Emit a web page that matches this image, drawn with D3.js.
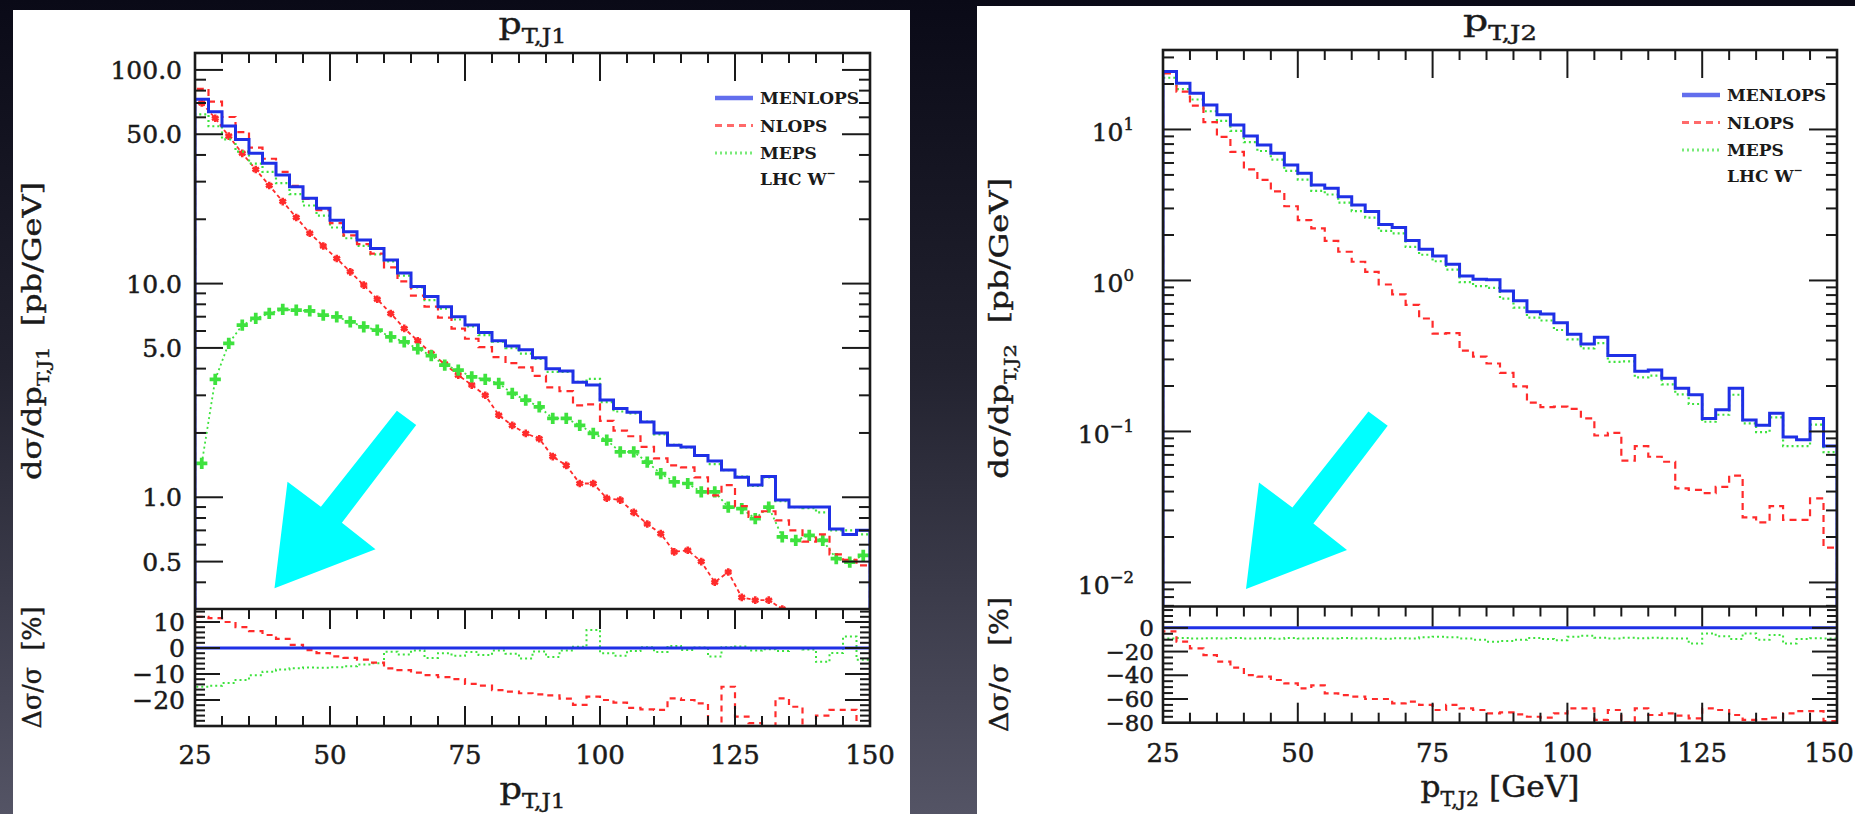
<!DOCTYPE html>
<html><head><meta charset="utf-8">
<script src="https://cdn.jsdelivr.net/npm/d3@7"></script>
<style>html,body{margin:0;padding:0;background:#111;overflow:hidden}</style>
</head><body><svg id="c" width="1855" height="814"></svg>
<script>
// ---------------- DATA ----------------
const binStarts = d3.range(25, 150, 2.5);   // 2.5 GeV bins, 25..150
const binWidth = 2.5;
const xTicks = [25, 50, 75, 100, 125, 150];
const xTickLabels = ["25", "50", "75", "100", "125", "150"];

// p_T,J1 panel
const j1Menlops = [72.9,63.8,54.7,47.3,40.7,36.6,32.2,28.4,25.1,22.5,19.8,17.5,16.0,14.6,12.9,11.2,9.7,8.7,7.8,7.0,6.4,5.9,5.4,5.1,4.9,4.5,4.0,3.9,3.45,3.35,2.85,2.6,2.5,2.25,2.0,1.75,1.72,1.57,1.48,1.34,1.24,1.14,1.25,0.97,0.90,0.90,0.90,0.71,0.67,0.70];
const j1Nlops = [81.6,71.1,60.2,51.1,43.3,38.4,33.3,28.7,24.9,22.05,19.2,16.8,15.3,13.8,11.9,10.25,8.78,7.8,6.93,6.16,5.52,5.04,4.53,4.24,4.05,3.70,3.27,3.14,2.69,2.72,2.28,2.05,1.93,1.72,1.52,1.41,1.38,1.24,1.02,1.14,0.91,0.81,0.86,0.78,0.70,0.62,0.67,0.54,0.51,0.48];
const j1Meps = [62.0,54.5,47.3,41.5,36.4,33.3,29.5,26.2,23.2,20.8,18.3,16.3,15.0,13.7,12.7,10.9,9.6,8.37,7.64,6.79,6.30,5.74,5.35,4.99,4.70,4.44,3.86,3.86,3.47,3.58,2.79,2.52,2.47,2.26,1.97,1.76,1.71,1.57,1.43,1.34,1.25,1.13,1.24,0.96,0.90,0.89,0.85,0.70,0.70,0.67];
const j1NlopsMarked = [70,59.4,49,40.7,34.2,28.8,24.2,20.4,17.2,15.0,13.1,11.35,9.84,8.45,7.25,6.17,5.4,4.71,4.2,3.73,3.35,3.0,2.42,2.17,1.99,1.88,1.55,1.41,1.16,1.16,0.99,0.97,0.85,0.75,0.676,0.555,0.565,0.50,0.40,0.447,0.34,0.33,0.33,0.30,0.27,0.25,0.23,0.21,0.19,0.17];
const j1MepsMarked = [1.44,3.56,5.25,6.39,6.87,7.25,7.57,7.51,7.45,7.12,6.99,6.62,6.28,6.05,5.63,5.34,4.95,4.6,4.15,3.94,3.66,3.56,3.41,3.06,2.85,2.65,2.34,2.34,2.17,1.99,1.85,1.63,1.63,1.46,1.29,1.18,1.16,1.06,1.06,0.90,0.885,0.795,0.90,0.652,0.629,0.664,0.629,0.516,0.497,0.535];
const j1RatioNlops = [12,11.5,10,8,6.5,5,3.5,1.2,-0.8,-2,-3.2,-3.8,-4.5,-5.6,-7.8,-8.5,-9.5,-10.4,-11.2,-12.0,-13.8,-14.5,-16.2,-16.8,-17.4,-17.8,-18.2,-19.5,-21.9,-18.7,-20.0,-21.0,-23.0,-23.6,-23.8,-19.4,-20.0,-21.3,-31,-14.9,-26.4,-28.9,-31,-19.4,-22.6,-31,-26,-23.8,-23.8,-31];
const j1RatioMeps = [-14.9,-14.5,-13.5,-12.3,-10.5,-9.1,-8.3,-7.8,-7.5,-7.6,-7.4,-7.0,-6.3,-5.9,-1.4,-2.5,-1.0,-3.8,-2.0,-3.0,-1.5,-2.7,-1.0,-2.2,-4.0,-1.3,-3.5,-1.0,0.5,6.9,-2.0,-3.0,-1.2,0.3,-1.5,0.8,-0.8,0.2,-3.3,0.3,0.6,-1.0,-0.5,-1.2,0.0,-0.6,-5.3,-1.9,4.4,-4.5];
const j1YTicks = [100, 50, 10, 5, 1, 0.5];
const j1YTickLabels = ["100.0", "50.0", "10.0", "5.0", "1.0", "0.5"];
const j1RatioTicks = [10, 0, -10, -20];
const j1RatioTickLabels = ["10", "0", "\u221210", "\u221220"];

// p_T,J2 panel
const j2Menlops = [24.2,20.2,17.4,14.5,12.5,10.7,9.06,7.89,6.95,5.82,5.12,4.29,4.08,3.59,3.16,2.86,2.35,2.24,1.84,1.61,1.45,1.28,1.07,1.02,1.01,0.85,0.733,0.62,0.60,0.525,0.44,0.38,0.42,0.318,0.318,0.25,0.255,0.225,0.193,0.175,0.122,0.139,0.193,0.119,0.110,0.132,0.092,0.088,0.122,0.080];
const j2Nlops = [23.5,17.8,14.4,11.2,8.94,7.10,5.45,4.64,3.89,3.10,2.51,2.21,1.83,1.55,1.33,1.14,0.94,0.81,0.69,0.56,0.445,0.448,0.343,0.313,0.282,0.244,0.199,0.155,0.145,0.146,0.141,0.122,0.094,0.098,0.064,0.080,0.068,0.063,0.042,0.041,0.039,0.043,0.051,0.027,0.025,0.032,0.026,0.026,0.036,0.017];
const j2Meps = [22.0,18.5,15.8,13.2,11.4,9.79,8.24,7.20,6.31,5.32,4.66,3.92,3.71,3.28,2.88,2.61,2.13,2.05,1.67,1.48,1.34,1.18,0.974,0.918,0.892,0.757,0.660,0.567,0.543,0.470,0.407,0.355,0.385,0.289,0.291,0.228,0.234,0.205,0.176,0.152,0.116,0.129,0.175,0.113,0.099,0.124,0.080,0.080,0.111,0.073];
const j2RatioNlops = [-3,-11.7,-17.3,-23,-28.5,-33.6,-39.8,-41.2,-44,-46.8,-51,-48.5,-55.2,-56.7,-58,-60,-60,-63.7,-62.3,-65,-69.3,-65,-67.9,-69.3,-72.1,-71.3,-72.9,-75,-75.8,-72.1,-67.9,-67.9,-77.7,-69.3,-80,-68,-73.5,-72.1,-74,-76.3,-67.9,-69.3,-73.5,-77.7,-77,-75.8,-72.1,-70.2,-70.2,-78.6];
const j2RatioMeps = [-9,-8.5,-9,-8.7,-9,-8.5,-9,-8.8,-9.2,-8.6,-9,-8.7,-9,-8.5,-9,-8.8,-9.2,-8.7,-9,-8,-7.5,-8,-9,-10,-11.7,-11,-10,-8.5,-9.5,-10.5,-7.5,-6.6,-8.4,-9,-8.4,-8.8,-8.4,-8.8,-9,-13.2,-4.7,-7,-9.5,-4.7,-10,-6,-13.2,-9.5,-8.8,-9];
const j2YTicks = [10, 1, 0.1, 0.01];
const j2YTickExponents = ["1", "0", "\u22121", "\u22122"];
const j2RatioTicks = [0, -20, -40, -60, -80];
const j2RatioTickLabels = ["0", "\u221220", "\u221240", "\u221260", "\u221280"];

const legendNames = ["MENLOPS", "NLOPS", "MEPS"];

// ---------------- STYLE / LAYOUT ----------------
const FONT = "'DejaVu Serif', 'Liberation Serif', serif";
const INK = "#1a1a1a";
const BLUE = "#1f30e6", RED = "#ff2b2b", GREEN = "#3ee23e";
const PAGE_W = 1855;

const svg = d3.select("#c");
const defs = svg.append("defs");
const grad = defs.append("linearGradient").attr("id", "bg").attr("x1", 0).attr("y1", 0).attr("x2", 0).attr("y2", 1);
grad.append("stop").attr("offset", 0).attr("stop-color", "#0a0a17");
grad.append("stop").attr("offset", 0.45).attr("stop-color", "#22222f");
grad.append("stop").attr("offset", 1).attr("stop-color", "#545465");
svg.append("rect").attr("width", 1855).attr("height", 814).attr("fill", "url(#bg)");

function richText(parent, x, y, parts, o) {
  const size = o.size;
  const g = parent.append("g").attr("transform", `translate(${x},${y})` + (o.rotate ? ` rotate(${o.rotate})` : ""));
  const t = g.append("text").attr("font-family", FONT).attr("font-size", size)
    .attr("font-weight", o.weight || "normal").attr("text-anchor", o.anchor || "middle")
    .attr("fill", o.fill || INK).style("white-space", "pre");
  if (o.thick) t.attr("stroke", o.fill || INK).attr("stroke-width", o.thick);
  let shift = 0;
  parts.forEach(p => {
    const [str, kind] = typeof p === "string" ? [p, "n"] : p;
    const target = kind === "sub" ? size * 0.3 : kind === "sup" ? -size * 0.45 : 0;
    const fs = kind === "n" ? size : size * 0.66;
    t.append("tspan").attr("dy", target - shift).attr("font-size", fs).text(str);
    shift = target;
  });
  if (o.width) {
    const w = t.node().getBBox().width;
    t.attr("transform", `scale(${o.width / w},1)`);
  }
  return t;
}

const panels = [
  { key: "j1", bg: [13, 10, 897, 810], left: 195, right: 870, top: 53, mid: 609, bottom: 726,
    yDom: [0.3, 120], rDom: [-30, 15], rMinorStep: 2,
    menlops: j1Menlops, nlops: j1Nlops, meps: j1Meps, nlopsM: j1NlopsMarked, mepsM: j1MepsMarked,
    rNlops: j1RatioNlops, rMeps: j1RatioMeps,
    yTicks: j1YTicks, yLabels: j1YTickLabels.map(s => [s]), yLabelX: 182, yLabelDy: 9,
    rTicks: j1RatioTicks, rLabels: j1RatioTickLabels, rLabelX: 185, rLabelSize: 25, rLabelDy: 9,
    title: ["p", ["T,J1", "sub"]], titleY: 34, titleW: 68,
    xTitle: ["p", ["T,J1", "sub"]], xTitleY: 799, xTitleW: 66, xLabelY: 764,
    yTitle: ["d\u03c3/dp", ["T,J1", "sub"], "  [pb/GeV]"], yTitleX: 41, yTitleW: 298,
    rTitleW: 122, arrowTip: [79.5, -20.7] },
  { key: "j2", bg: [977, 6, 900, 810], left: 1163, right: 1837, top: 50, mid: 606.5, bottom: 722.7,
    yDom: [0.00693, 33.6], rDom: [-80, 18], rMinorStep: 5,
    menlops: j2Menlops, nlops: j2Nlops, meps: j2Meps, nlopsM: null, mepsM: null,
    rNlops: j2RatioNlops, rMeps: j2RatioMeps,
    yTicks: j2YTicks, yLabels: j2YTickExponents.map(e => ["10", [e, "sup"]]), yLabelX: 1134, yLabelDy: 12,
    rTicks: j2RatioTicks, rLabels: j2RatioTickLabels, rLabelX: 1154, rLabelSize: 23, rLabelDy: 8,
    title: ["p", ["T,J2", "sub"]], titleY: 31, titleW: 74,
    xTitle: ["p", ["T,J2", "sub"], " [GeV]"], xTitleY: 797, xTitleW: 159, xLabelY: 762,
    yTitle: ["d\u03c3/dp", ["T,J2", "sub"], "  [pb/GeV]"], yTitleX: 1008, yTitleW: 301,
    rTitleW: 135, arrowTip: [83, -17.5] }
];

const arrowShape = [[122.4,-177.6],[141.7,-163.3],[67.4,-65.6],[101,-39],[0,0],[13,-106.6],[46.4,-81.6]];

function drawPanel(P) {
  svg.append("rect").attr("x", P.bg[0]).attr("y", P.bg[1]).attr("width", P.bg[2]).attr("height", P.bg[3]).attr("fill", "#ffffff");
  const x = d3.scaleLinear().domain([25, 150]).range([P.left, P.right]);
  const y = d3.scaleLog().domain(P.yDom).range([P.mid, P.top]);
  const r = d3.scaleLinear().domain(P.rDom).range([P.bottom, P.mid]);
  const line = d3.line();

  defs.append("clipPath").attr("id", P.key + "m").append("rect")
    .attr("x", P.left).attr("y", P.top).attr("width", P.right - P.left).attr("height", P.mid - P.top);
  defs.append("clipPath").attr("id", P.key + "r").append("rect")
    .attr("x", P.left).attr("y", P.mid).attr("width", P.right - P.left).attr("height", P.bottom - P.mid);

  function hist(vals, sc, base) {
    const pts = [[x(binStarts[0]), base]];
    vals.forEach((v, i) => { pts.push([x(binStarts[i]), sc(v)], [x(binStarts[i] + binWidth), sc(v)]); });
    pts.push([x(binStarts[binStarts.length - 1] + binWidth), base]);
    return line(pts);
  }
  const centers = binStarts.map(b => b + binWidth / 2);

  // main curves
  const gm = svg.append("g").attr("clip-path", `url(#${P.key}m)`);
  const base = P.mid + 6;
  if (P.nlopsM) {
    gm.append("path").attr("d", line(P.nlopsM.map((v, i) => [x(centers[i]), y(v)])))
      .attr("fill", "none").attr("stroke", RED).attr("stroke-width", 1.8).attr("stroke-dasharray", "4,3");
    gm.selectAll(null).data(P.nlopsM).join("path")
      .attr("transform", (v, i) => `translate(${x(centers[i])},${y(v)})`)
      .attr("d", d3.symbol().type(d3.symbolAsterisk).size(40)())
      .attr("fill", "none").attr("stroke", RED).attr("stroke-width", 2.6);
  }
  if (P.mepsM) {
    gm.append("path").attr("d", line(P.mepsM.map((v, i) => [x(centers[i]), y(v)])))
      .attr("fill", "none").attr("stroke", GREEN).attr("stroke-width", 1.8).attr("stroke-dasharray", "2,3");
    gm.selectAll(null).data(P.mepsM).join("path")
      .attr("transform", (v, i) => `translate(${x(centers[i])},${y(v)})`)
      .attr("d", d3.symbol().type(d3.symbolCross).size(70)())
      .attr("fill", GREEN);
  }
  gm.append("path").attr("d", hist(P.meps, y, base)).attr("fill", "none").attr("stroke", GREEN)
    .attr("stroke-width", 2.2).attr("stroke-dasharray", "2,3");
  gm.append("path").attr("d", hist(P.nlops, y, base)).attr("fill", "none").attr("stroke", RED)
    .attr("stroke-width", 2.2).attr("stroke-dasharray", "7,5");
  gm.append("path").attr("d", hist(P.menlops, y, base)).attr("fill", "none").attr("stroke", BLUE)
    .attr("stroke-width", 3);

  // ratio curves
  const gr = svg.append("g").attr("clip-path", `url(#${P.key}r)`);
  gr.append("path").attr("d", hist(P.rMeps, r, r(0))).attr("fill", "none").attr("stroke", GREEN)
    .attr("stroke-width", 2).attr("stroke-dasharray", "2,3");
  gr.append("path").attr("d", hist(P.rNlops, r, r(0))).attr("fill", "none").attr("stroke", RED)
    .attr("stroke-width", 2.2).attr("stroke-dasharray", "6,5");
  gr.append("path").attr("d", line([[x(25), r(0)], [x(150), r(0)]])).attr("fill", "none")
    .attr("stroke", BLUE).attr("stroke-width", 3);

  // frames
  const fr = svg.append("g").attr("fill", "none").attr("stroke", INK);
  fr.append("rect").attr("x", P.left).attr("y", P.top).attr("width", P.right - P.left).attr("height", P.bottom - P.top).attr("stroke-width", 2.6);
  fr.append("path").attr("d", line([[P.left, P.mid], [P.right, P.mid]])).attr("stroke-width", 2.6);

  const tk = svg.append("g").attr("stroke", INK).attr("stroke-width", 2);
  const seg = (x1, y1, x2, y2) => tk.append("path").attr("d", line([[x1, y1], [x2, y2]]));
  // x ticks
  d3.range(25, 151, 5).forEach(v => {
    const major = xTicks.includes(v);
    const px = x(v);
    seg(px, P.top, px, P.top + (major ? 28 : 10));
    seg(px, P.mid, px, P.mid + (major ? 20 : 10));
    seg(px, P.bottom, px, P.bottom - (major ? 20 : 10));
  });
  // log y ticks
  const lo = Math.floor(Math.log10(P.yDom[0])), hi = Math.ceil(Math.log10(P.yDom[1]));
  for (let k = lo; k <= hi; k++) {
    for (let m = 1; m <= 9; m++) {
      const v = +(m * Math.pow(10, k)).toPrecision(6);
      if (v < P.yDom[0] || v > P.yDom[1]) continue;
      const major = P.yTicks.some(t => Math.abs(t - v) / t < 1e-6);
      const py = y(v), len = major ? 28 : 11;
      seg(P.left, py, P.left + len, py);
      seg(P.right, py, P.right - len, py);
    }
  }
  // ratio y ticks
  for (let v = Math.ceil(P.rDom[0] / P.rMinorStep) * P.rMinorStep; v <= P.rDom[1]; v += P.rMinorStep) {
    const major = P.rTicks.includes(v);
    const py = r(v), len = major ? 25 : 10;
    if (py >= P.bottom - 0.5 || py <= P.mid + 0.5) continue;
    seg(P.left, py, P.left + len, py);
    seg(P.right, py, P.right - len, py);
  }

  // tick labels
  const tl = svg.append("g");
  xTicks.forEach((v, i) => {
    // keep the last label inside the page edge
    const px = Math.min(x(v), PAGE_W - 26);
    richText(tl, px, P.xLabelY, [xTickLabels[i]], { size: 26, thick: 0.5 });
  });
  P.yTicks.forEach((v, i) => richText(tl, P.yLabelX, y(v) + P.yLabelDy, P.yLabels[i], { size: 25, anchor: "end", thick: 0.5 }));
  P.rTicks.forEach((v, i) => richText(tl, P.rLabelX, r(v) + P.rLabelDy, [P.rLabels[i]], { size: P.rLabelSize, anchor: "end", thick: 0.5 }));

  // titles
  const cx = (P.left + P.right) / 2;
  richText(tl, cx, P.titleY, P.title, { size: 30, width: P.titleW, thick: 0.4 });
  richText(tl, cx, P.xTitleY, P.xTitle, { size: 30, width: P.xTitleW, thick: 0.4 });
  richText(tl, P.yTitleX, (P.top + P.mid) / 2, P.yTitle, { size: 26, rotate: -90, width: P.yTitleW, thick: 0.4 });
  richText(tl, P.yTitleX, (P.mid + P.bottom) / 2, ["\u0394\u03c3/\u03c3  [%]"], { size: 26, rotate: -90, width: P.rTitleW, thick: 0.4 });

  // legend
  const lg = svg.append("g");
  const rows = [45, 72.5, 100, 126];
  const styles = [[BLUE, null, 4.5], [RED, "7,5", 3], [GREEN, "2,3", 3]];
  legendNames.forEach((name, i) => {
    const ly = P.top + rows[i];
    lg.append("path").attr("d", line([[P.right - 155, ly], [P.right - 117, ly]]))
      .attr("stroke", styles[i][0]).attr("stroke-width", styles[i][2]).attr("opacity", 0.7)
      .attr("stroke-dasharray", styles[i][1]).attr("fill", "none");
    richText(lg, P.right - 110, ly + 6, [name], { size: 17, anchor: "start", weight: "bold" });
  });
  richText(lg, P.right - 110, P.top + rows[3] + 6, ["LHC W", ["\u2212", "sup"]], { size: 17, anchor: "start", weight: "bold" });

  // cyan annotation arrow
  const tip = [P.left + P.arrowTip[0], P.mid + P.arrowTip[1]];
  svg.append("path").attr("d", line(arrowShape.map(([dx, dy]) => [tip[0] + dx, tip[1] + dy])) + "Z")
    .attr("fill", "#00ffff");
}

panels.forEach(drawPanel);
</script>
</body></html>
